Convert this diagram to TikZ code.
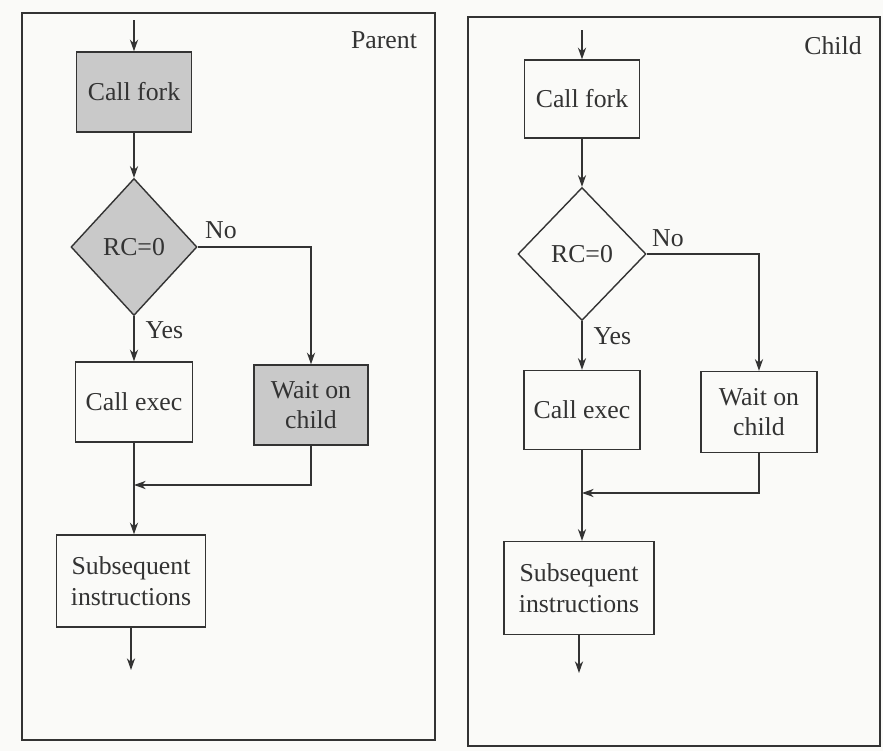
\documentclass[tikz,border=0pt]{standalone}
\usepackage{fontspec}
\setmainfont{Liberation Serif}
\usetikzlibrary{shapes.geometric,arrows.meta}
\definecolor{ink}{HTML}{333333}
\definecolor{shade}{HTML}{C9C9C9}
\definecolor{paper}{HTML}{FAFAF8}
\tikzset{
  every node/.style={font=\fontsize{22}{26}\selectfont, text=ink},
  panel/.style={draw=ink, line width=1.2pt},
  stepbox/.style={draw=ink, line width=1.2pt, rectangle, align=center, inner sep=0pt},
  decision/.style={draw=ink, line width=1.2pt, diamond, inner sep=0pt},
  greyed/.style={fill=shade},
  flow/.style={draw=ink, line width=1.2pt, -{Stealth[length=10pt,width=7pt]}},
}
\begin{document}
\begin{tikzpicture}[x=0.03cm, y=-0.03cm]
  \fill[paper] (0,0) rectangle (883,751);
  \useasboundingbox (0,0) rectangle (883,751);

  % ---------- Parent process ----------
  \draw[panel] (22,13) rectangle (435,740);
  \node[anchor=center] (ptitle) at (384,40) {Parent};

  \coordinate (pin) at (134,20);
  \node[stepbox, greyed, minimum width=115*0.03cm, minimum height=80*0.03cm] (pfork) at (134,92) {Call fork};
  \node[decision, greyed, minimum width=126*0.03cm, minimum height=137*0.03cm] (pdec) at (134,247) {RC=0};
  \node[stepbox, minimum width=117*0.03cm, minimum height=80*0.03cm] (pexec) at (134,402) {Call exec};
  \node[stepbox, greyed, minimum width=114*0.03cm, minimum height=80*0.03cm] (pwait) at (311,405) {Wait on\\child};
  \node[stepbox, minimum width=149*0.03cm, minimum height=92*0.03cm] (psub) at (131,581) {Subsequent\\instructions};
  \coordinate (pmerge) at (134,485);
  \coordinate (pout) at (131,670);

  \draw[flow] (pin) -- (pfork);
  \draw[flow] (pfork) -- (pdec);
  \draw[flow] (pdec.south) -- (pexec.north) node[pos=0.3, right, xshift=6pt] (pyes) {Yes};
  \draw[flow] (pdec.east) -| (pwait.north);
  \node[anchor=south west] (pno) at (201,243) {No};
  \draw[flow] (pwait.south) |- (pmerge);
  \draw[flow] (pexec.south) -- (pexec.south |- psub.north);
  \draw[flow] (psub.south) -- (pout);

  % ---------- Child process ----------
  \draw[panel] (468,17) rectangle (880,746);
  \node[anchor=center] (ctitle) at (833,46) {Child};

  \coordinate (cin) at (582,30);
  \node[stepbox, minimum width=115*0.03cm, minimum height=78*0.03cm] (cfork) at (582,99) {Call fork};
  \node[decision, minimum width=128*0.03cm, minimum height=133*0.03cm] (cdec) at (582,254) {RC=0};
  \node[stepbox, minimum width=116*0.03cm, minimum height=79*0.03cm] (cexec) at (582,410) {Call exec};
  \node[stepbox, minimum width=116*0.03cm, minimum height=81*0.03cm] (cwait) at (759,412) {Wait on\\child};
  \node[stepbox, minimum width=150*0.03cm, minimum height=93*0.03cm] (csub) at (579,588) {Subsequent\\instructions};
  \coordinate (cmerge) at (582,493);
  \coordinate (cout) at (579,673);

  \draw[flow] (cin) -- (cfork);
  \draw[flow] (cfork) -- (cdec);
  \draw[flow] (cdec.south) -- (cexec.north) node[pos=0.3, right, xshift=6pt] (cyes) {Yes};
  \draw[flow] (cdec.east) -| (cwait.north);
  \node[anchor=south west] (cno) at (648,251) {No};
  \draw[flow] (cwait.south) |- (cmerge);
  \draw[flow] (cexec.south) -- (cexec.south |- csub.north);
  \draw[flow] (csub.south) -- (cout);
\end{tikzpicture}
\end{document}
